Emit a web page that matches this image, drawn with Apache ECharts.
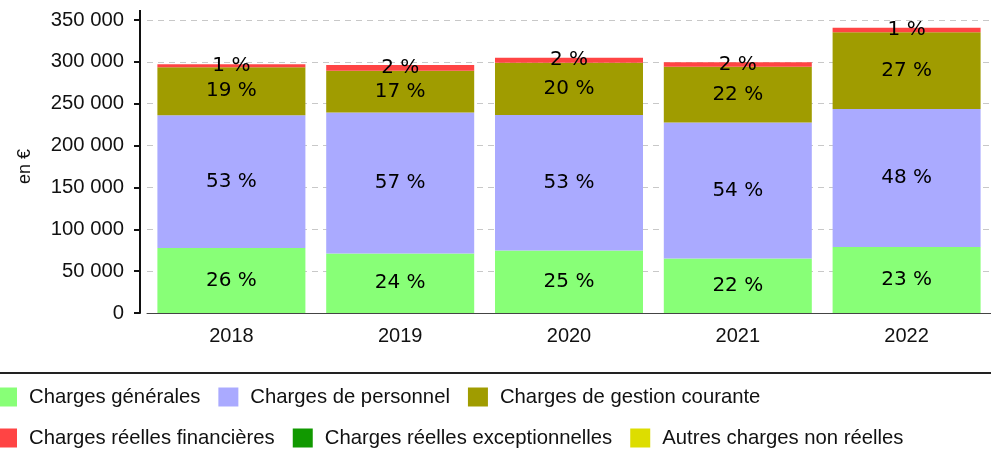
<!DOCTYPE html>
<html>
<head>
<meta charset="utf-8">
<script src="https://cdn.jsdelivr.net/npm/echarts@6/dist/echarts.min.js"></script>
<style>
html, body { margin: 0; padding: 0; background: #fff; }
#barChart { width: 991px; height: 454px; }
</style>
</head>
<body>
<div id="barChart"></div>
<script>
// années
var years = ['2018', '2019', '2020', '2021', '2022'];

// montants en euros
var chargesGenerales = [77600, 71100, 74700, 65200, 78800];
var chargesPersonnel = [158700, 168300, 161900, 162300, 165000];
var chargesGestion = [57300, 50100, 62400, 66800, 91500];
var chargesFinancieres = [3500, 6800, 6000, 5200, 5500];
var chargesExceptionnelles = [0, 0, 0, 0, 0];
var autresCharges = [0, 0, 0, 0, 0];

// pourcentages affichés dans les barres
var pctGenerales = [26, 24, 25, 22, 23];
var pctPersonnel = [53, 57, 53, 54, 48];
var pctGestion = [19, 17, 20, 22, 27];
var pctFinancieres = [1, 2, 2, 2, 1];

var yTicks = [0, 50000, 100000, 150000, 200000, 250000, 300000, 350000];

var dom = document.getElementById("barChart");
var myChart = echarts.init(dom);

function fmtEuro(v) {
    return String(v).replace(/\B(?=(\d{3})+(?!\d))/g, ' ');
}

function pctLabel(pcts) {
    return {
        show: true,
        position: 'inside',
        color: '#000',
        fontFamily: 'DejaVu Sans',
        fontSize: 20,
        formatter: function (p) {
            return pcts[p.dataIndex] + ' %';
        }
    };
}

var axisFont = 'Liberation Sans';
var legendText = {fontFamily: axisFont, fontSize: 20.3, color: '#111', padding: [0, 0, 0, 7]};

option = {
    animation: false,
    backgroundColor: '#fff',
    grid: {
        left: 147,
        right: -4,
        top: 20,
        bottom: 141
    },
    legend: [
        {
            left: -3,
            top: 387,
            padding: 0,
            itemWidth: 20,
            itemHeight: 19,
            itemGap: 18,
            icon: 'rect',
            textStyle: legendText,
            data: ['Charges générales', 'Charges de personnel', 'Charges de gestion courante']
        },
        {
            left: -3,
            top: 428,
            padding: 0,
            itemWidth: 20,
            itemHeight: 19,
            itemGap: 18,
            icon: 'rect',
            textStyle: legendText,
            data: ['Charges réelles financières', 'Charges réelles exceptionnelles', 'Autres charges non réelles']
        }
    ],
    xAxis: {
        type: 'category',
        data: years,
        axisLine: {lineStyle: {color: '#444', width: 1}},
        axisTick: {show: false},
        axisLabel: {fontFamily: axisFont, fontSize: 20, color: '#111', margin: 13}
    },
    yAxis: {
        type: 'value',
        min: yTicks[0],
        max: yTicks[yTicks.length - 1],
        interval: 50000,
        offset: 7,
        name: 'en €',
        nameLocation: 'middle',
        nameGap: 106,
        nameTextStyle: {fontFamily: axisFont, fontSize: 18, color: '#111'},
        axisLine: {show: true, lineStyle: {color: '#111', width: 2}},
        axisTick: {show: true, length: 6, lineStyle: {color: '#111', width: 2}},
        axisLabel: {
            fontFamily: axisFont, fontSize: 20.3, color: '#111', margin: 16,
            formatter: function (v) { return fmtEuro(v); }
        },
        splitLine: {lineStyle: {color: '#c8c8c8', type: [6, 5], width: 1}}
    },
    series: [
        {
            name: 'Charges générales', type: 'bar', stack: 'total', barWidth: 148,
            itemStyle: {color: '#88ff77'},
            label: pctLabel(pctGenerales),
            data: chargesGenerales
        },
        {
            name: 'Charges de personnel', type: 'bar', stack: 'total',
            itemStyle: {color: '#aaaaff'},
            label: pctLabel(pctPersonnel),
            data: chargesPersonnel
        },
        {
            name: 'Charges de gestion courante', type: 'bar', stack: 'total',
            itemStyle: {color: '#a09c00'},
            label: pctLabel(pctGestion),
            data: chargesGestion
        },
        {
            name: 'Charges réelles financières', type: 'bar', stack: 'total',
            itemStyle: {color: '#ff4444'},
            label: pctLabel(pctFinancieres),
            data: chargesFinancieres
        },
        {
            name: 'Charges réelles exceptionnelles', type: 'bar', stack: 'total',
            itemStyle: {color: '#119900'},
            data: chargesExceptionnelles
        },
        {
            name: 'Autres charges non réelles', type: 'bar', stack: 'total',
            itemStyle: {color: '#dddd00'},
            data: autresCharges
        }
    ],
    graphic: [
        // prolongement de l'axe vertical au-dessus de 350 000
        {type: 'line', shape: {x1: 140, y1: 10, x2: 140, y2: 21}, style: {stroke: '#111', lineWidth: 2}},
        // trait de séparation au-dessus de la légende
        {type: 'rect', shape: {x: 0, y: 372, width: 991, height: 2}, style: {fill: '#222'}}
    ]
};

myChart.setOption(option, true);

window.onresize = function(){
    myChart.resize();
}
</script>
</body>
</html>
